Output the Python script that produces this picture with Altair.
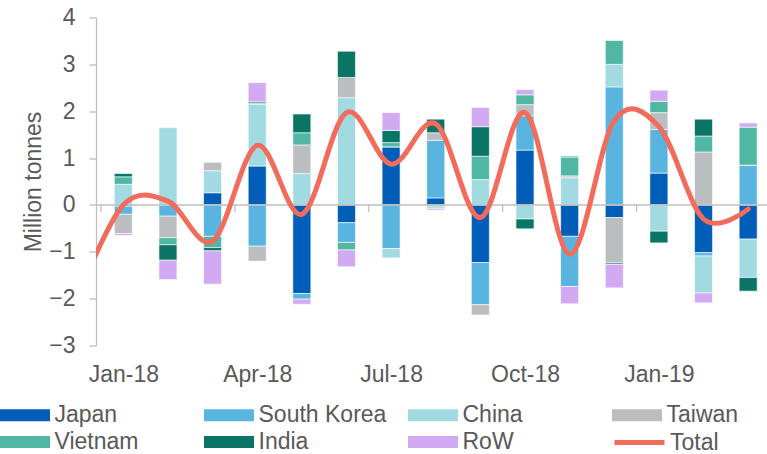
import altair as alt
import pandas as pd

months = ["Jan-18", "Feb-18", "Mar-18", "Apr-18", "May-18", "Jun-18", "Jul-18",
          "Aug-18", "Sep-18", "Oct-18", "Nov-18", "Dec-18", "Jan-19", "Feb-19", "Mar-19"]
series = ["Japan", "South Korea", "China", "Taiwan", "Vietnam", "India", "RoW"]
colors = ["#005EB8", "#5AB4E0", "#A1DBE1", "#BBBEC1", "#50B7A3", "#0B7565", "#D2AAF4"]
total_name = "Total"
total_color = "#F26B5B"

japan       = [-0.03, 0.00, 0.26, 0.83, -1.89, -0.38, 1.24, 0.15, -1.23, 1.17, -0.67, -0.27, 0.68, -1.02, -0.73]
south_korea = [-0.17, -0.24, -0.67, -0.88, -0.12, -0.42, -0.93, 1.23, -0.90, 0.73, -1.07, 2.52, 0.93, -0.07, 0.85]
china       = [0.44, 1.65, 0.47, 1.32, 0.67, 2.29, -0.20, -0.05, 0.54, -0.30, 0.58, 0.48, -0.56, -0.79, -0.82]
taiwan      = [-0.41, -0.46, 0.18, -0.32, 0.61, 0.43, 0.00, 0.16, -0.22, 0.24, 0.04, -0.97, 0.36, 1.13, 0.00]
vietnam     = [0.16, -0.15, -0.24, 0.02, 0.26, -0.16, 0.09, -0.03, 0.50, 0.21, 0.40, 0.51, 0.24, 0.34, 0.81]
india       = [0.07, -0.33, -0.07, 0.03, 0.40, 0.56, 0.26, 0.29, 0.63, -0.21, 0.02, -0.03, -0.25, 0.36, -0.29]
row         = [-0.04, -0.41, -0.71, 0.41, -0.11, -0.36, 0.38, -0.03, 0.41, 0.11, -0.37, -0.50, 0.24, -0.21, 0.09]

# Total line (first point is Dec-17, just left of the axis)
total_months = ["Dec-17"] + months
total = [-1.9, 0.00, 0.08, -0.77, 1.27, -0.20, 1.97, 0.87, 1.73, -0.27, 1.97, -1.05, 1.80, 1.67, -0.30, -0.09]

axis_labels = ["Jan-18", "Apr-18", "Jul-18", "Oct-18", "Jan-19"]

values_by_series = [japan, south_korea, china, taiwan, vietnam, india, row]
rows = []
for s_i, (name, vals) in enumerate(zip(series, values_by_series)):
    for m_i, v in enumerate(vals):
        rows.append({"idx": m_i, "month": months[m_i], "Series": name, "value": v, "order": s_i})
bars_df = pd.DataFrame(rows)

total_df = pd.DataFrame({"idx": list(range(-1, len(months))), "month": total_months,
                         "value": total, "Series": [total_name] * len(total)})
bnd = [i - 0.5 for i in range(0, len(months), 3)]
ticks_df = pd.DataFrame({"idx": bnd, "value": [0] * len(bnd)})
zero_df = pd.DataFrame({"idx": [0], "value": [0]})

FONT = "Liberation Sans"
TXT = "#595959"
GRAY = "#BFBFBF"

xscale = alt.Scale(domain=[-0.5, 14.31], nice=False, zero=False)
yscale = alt.Scale(domain=[-3, 4], nice=False, zero=False)

label_list = "[" + ",".join("'" + l + "'" for l in axis_labels) + "]"

x_axis = alt.Axis(values=[0, 3, 6, 9, 12],
                  labelExpr=label_list + "[round(datum.value/3)]",
                  domain=False, ticks=False, grid=False, title=None,
                  labelPadding=18, labelFontSize=23, labelColor=TXT, labelFont=FONT,
                  labelFlush=False, labelOverlap=False)
y_axis = alt.Axis(values=list(range(-3, 5)), title="Million tonnes", grid=False,
                  domainColor=GRAY, domainWidth=1.3, tickColor=GRAY, tickSize=7, tickWidth=1.3,
                  labelPadding=14, labelFontSize=23, labelColor=TXT, labelFont=FONT,
                  titleFontSize=23, titleFontWeight="normal", titleColor=TXT, titleFont=FONT,
                  titlePadding=3)

def X():
    return alt.X("idx:Q", scale=xscale, axis=x_axis)

def Y(**kw):
    return alt.Y("value:Q", scale=yscale, axis=y_axis, **kw)

legend_common = dict(orient="none", direction="horizontal", title=None, labelFontSize=23,
                     labelColor=TXT, labelFont=FONT, padding=0, labelLimit=400, symbolOpacity=1)

# wide rectangle symbol: 50 x 12 px, centred so it spans 0..50 px of the entry
rect_path = "M-2,-0.48H2V0.48H-2Z"

bars = alt.Chart(bars_df).mark_bar(size=18, stroke="white", strokeWidth=0.6).encode(
    x=X(),
    y=Y(stack="zero"),
    color=alt.Color("Series:N",
                    scale=alt.Scale(domain=series, range=colors),
                    legend=alt.Legend(legendX=-96, legendY=385, columns=4,
                                      symbolType=rect_path, symbolSize=625, symbolStrokeWidth=0,
                                      symbolOffset=12.5, labelOffset=17,
                                      columnPadding=21, rowPadding=2, gridAlign="all",
                                      **legend_common)),
    order=alt.Order("order:Q"),
)

zero_line = alt.Chart(zero_df).mark_rule(color=GRAY, strokeWidth=1.5).encode(
    y=Y()
)

ticks = alt.Chart(ticks_df).mark_rule(color=GRAY, strokeWidth=1.3, y2Offset=7).encode(
    x=X(),
    y=Y(),
    y2=alt.Y2("value:Q"),
)

line = alt.Chart(total_df).mark_line(interpolate="cardinal", strokeWidth=5,
                                     strokeCap="round", clip=True).encode(
    x=X(),
    y=Y(),
    color=alt.Color("Series:N", scale=alt.Scale(domain=[total_name], range=[total_color]),
                    legend=alt.Legend(legendX=516, legendY=397.5, symbolType="stroke",
                                      symbolSize=2500, symbolStrokeWidth=5, labelOffset=3,
                                      **legend_common)),
)

chart = alt.layer(bars, zero_line, ticks, line).resolve_scale(color="independent").properties(
    width=671, height=328,
    autosize=alt.AutoSizeParams(type="none"),
    padding={"left": 96, "top": 17.5, "right": 0, "bottom": 108.5},
    background="white",
).configure(font=FONT).configure_view(stroke=None)

chart.save("out.html", embed_options={"renderer": "svg", "actions": False})
